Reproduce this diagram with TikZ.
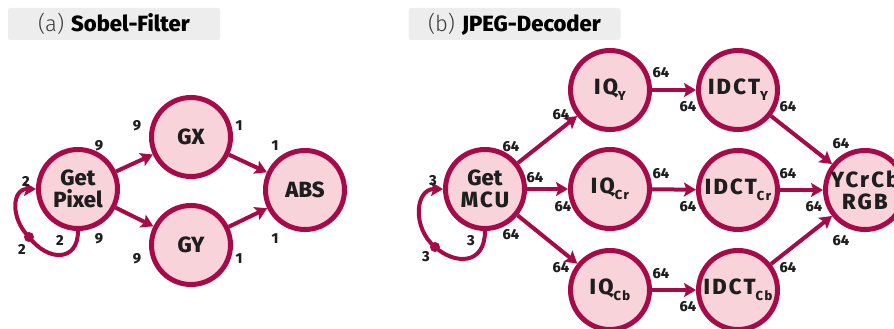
\documentclass[tikz,border=0pt]{standalone}
\usepackage{fontspec}
\setmainfont{Fira Sans}[BoldFont={Fira Sans ExtraBold}]
\newfontfamily\lightfont{Fira Sans Light}
\usetikzlibrary{arrows.meta}
\definecolor{edgec}{RGB}{166,10,72}
\definecolor{nodefill}{RGB}{248,212,218}
\definecolor{boxfill}{RGB}{237,237,237}
\definecolor{txt}{RGB}{30,30,30}
\definecolor{lighttxt}{RGB}{60,60,60}
% small lowered index inside a process node
\newcommand\lowsub[1]{\raisebox{-6pt}{\fontsize{13}{13}\selectfont\addfontfeatures{LetterSpace=12}#1}}
\newcommand\spaced[1]{{\addfontfeatures{LetterSpace=10}#1}}
\begin{document}
\begin{tikzpicture}[x=1pt,y=-1pt,
  proc/.style={circle, draw=edgec, fill=nodefill, line width=5pt, minimum size=79pt,
    inner sep=0pt, font=\fontsize{22}{22}\selectfont\bfseries, text=txt, align=center},
  flow/.style={draw=edgec, line width=4pt, -{Stealth[length=12pt,width=14pt,inset=2.5pt]}},
  rate/.style={font=\fontsize{14.5}{15}\selectfont\bfseries, text=txt, inner sep=0pt},
  title/.style={fill=boxfill, rounded corners=2pt, minimum width=212pt, minimum height=32pt,
    inner sep=0pt, font=\fontsize{22}{22}\selectfont},
  loopdot/.style={circle, fill=edgec, inner sep=0pt, minimum size=10pt},
]
\useasboundingbox (0,0) rectangle (894,329);

% panel titles
\node[title] (ta) at (114,24) {\textcolor{lighttxt}{\lightfont (a)}\hspace{7pt}\textbf{Sobel-Filter}};
\node[title] (tb) at (514.5,24) {\textcolor{lighttxt}{\lightfont (b)}\hspace{7pt}\textbf{JPEG-Decoder}};

% ---------- (a) Sobel filter ----------
\node[proc] (gp)  at (78,189)  {Get\\Pixel};
\node[proc] (gx)  at (191,137) {GX};
\node[proc] (gy)  at (191,245) {GY};
\node[proc] (abs) at (305,190) {ABS};

\draw[flow] (gp) -- (gx);
\draw[flow] (gp) -- (gy);
\draw[flow] (gx) -- (abs);
\draw[flow] (gy) -- (abs);

\coordinate (gpdot) at (29,237);
\draw[flow] (gp.south) .. controls (78,262) and (48,262) .. (gpdot)
  .. controls (10,218) and (12,189) .. (gp.west);
\node[loopdot] (gpd) at (gpdot) {};

\node[rate] (la1) at (26,181)  {2};
\node[rate] (la2) at (60,240)  {2};
\node[rate] (la3) at (22,249)  {2};
\node[rate] (la4) at (99,146)  {9};
\node[rate] (la5) at (137,126) {9};
\node[rate] (la6) at (239,126) {1};
\node[rate] (la7) at (275,146) {1};
\node[rate] (la8) at (99,239)  {9};
\node[rate] (la9) at (137,259) {9};
\node[rate] (la10) at (239,259) {1};
\node[rate] (la11) at (275,239) {1};

% ---------- (b) JPEG decoder ----------
\node[proc] (gm)   at (485,189) {Get\\\spaced{MCU}};
\node[proc] (iqy)  at (610,90)  {\spaced{IQ}\lowsub{Y}};
\node[proc] (iqr)  at (610,189) {\spaced{IQ}\lowsub{Cr}};
\node[proc] (iqb)  at (610,290) {\spaced{IQ}\lowsub{Cb}};
\node[proc] (idy)  at (738,90)  {\spaced{IDCT}\lowsub{Y}};
\node[proc] (idr)  at (738,190) {\spaced{IDCT}\lowsub{Cr}};
\node[proc] (idb)  at (738,290) {\spaced{IDCT}\lowsub{Cb}};
\node[proc] (rgb)  at (865,190) {\spaced{YCrCb}\\\spaced{RGB}};

\draw[flow] (gm) -- (iqy);
\draw[flow] (gm) -- (iqr);
\draw[flow] (gm) -- (iqb);
\draw[flow] (iqy) -- (idy);
\draw[flow] (iqr) -- (idr);
\draw[flow] (iqb) -- (idb);
\draw[flow] (idy) -- (rgb);
\draw[flow] (idr) -- (rgb);
\draw[flow] (idb) -- (rgb);

\coordinate (gmdot) at (435,247);
\draw[flow] (gm.south) .. controls (485,265) and (455,265) .. (gmdot)
  .. controls (412,228) and (415,189) .. (gm.west);
\node[loopdot] (gmd) at (gmdot) {};

\node[rate] (lb1) at (433,181) {3};
\node[rate] (lb2) at (471,241) {3};
\node[rate] (lb3) at (426,257) {3};
\node[rate] (lb4) at (511,147) {64};
\node[rate] (lb5) at (561,115) {64};
\node[rate] (lb6) at (535,178) {64};
\node[rate] (lb7) at (563,207) {64};
\node[rate] (lb8) at (511,235) {64};
\node[rate] (lb9) at (561,268) {64};
\node[rate] (lb10) at (661,73)  {64};
\node[rate] (lb11) at (688,107) {64};
\node[rate] (lb12) at (788,107) {64};
\node[rate] (lb13) at (841,144) {64};
\node[rate] (lb14) at (661,174) {64};
\node[rate] (lb15) at (688,207) {64};
\node[rate] (lb16) at (788,174) {64};
\node[rate] (lb17) at (814,207) {64};
\node[rate] (lb18) at (661,274) {64};
\node[rate] (lb19) at (688,307) {64};
\node[rate] (lb20) at (788,268) {64};
\node[rate] (lb21) at (841,241) {64};
\end{tikzpicture}
\end{document}
